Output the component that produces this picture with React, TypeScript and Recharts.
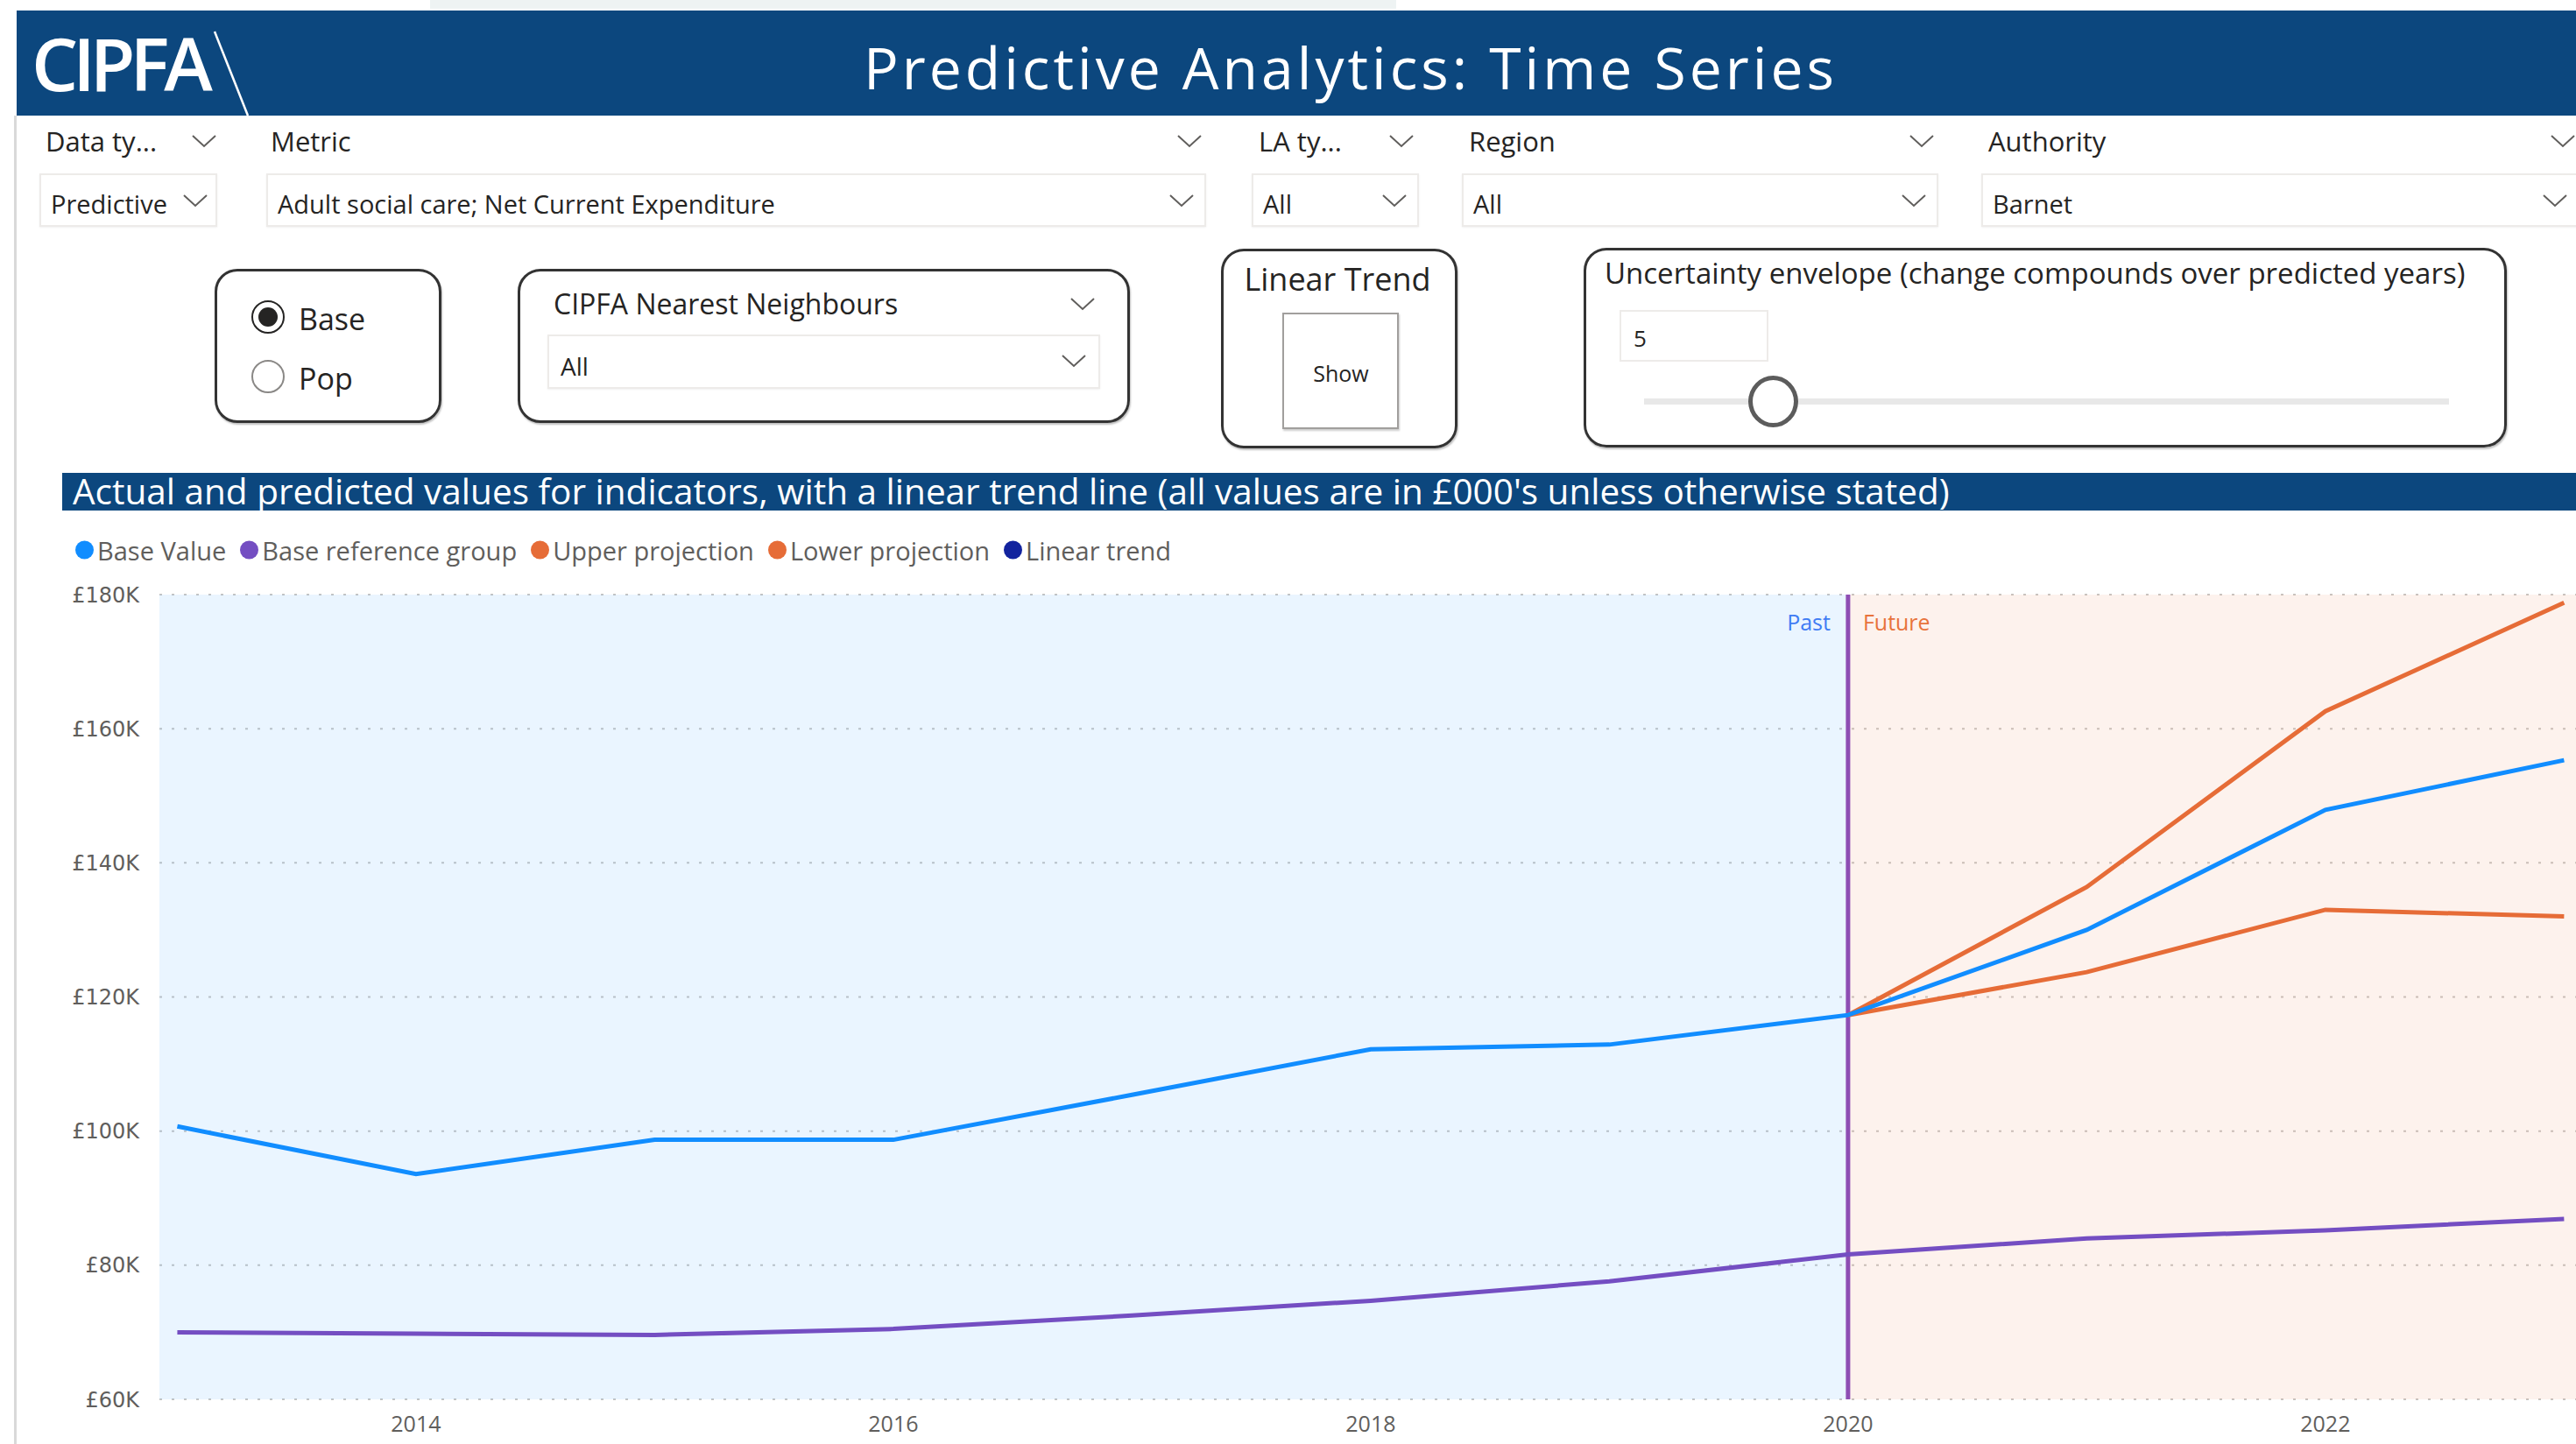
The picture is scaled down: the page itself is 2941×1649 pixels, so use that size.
import React from "react"
import { LineChart, Line, XAxis, YAxis, CartesianGrid, ReferenceArea, ReferenceLine } from "recharts"

// values in £000's (K)
const years = [2013, 2014, 2015, 2016, 2017, 2018, 2019, 2020, 2021, 2022, 2023]
const baseValue = [100.7, 93.6, 98.7, 98.7, 105.4, 112.2, 112.9, 117.3, 130.0, 147.9, 155.3]
const baseReferenceGroup = [70.0, 69.8, 69.6, 70.5, 72.5, 74.7, 77.6, 81.6, 84.0, 85.2, 86.9]
const upperProjection = [null, null, null, null, null, null, null, 117.3, 136.4, 162.6, 178.8]
const lowerProjection = [null, null, null, null, null, null, null, 117.3, 123.7, 133.0, 132.0]

const yTicks = [60, 80, 100, 120, 140, 160, 180]
const xTicks = [2014, 2016, 2018, 2020, 2022]
const xDomain: [number, number] = [2012.925, 2023.05]
const forecastStart = 2020

const legendItems = [
  { name: "Base Value", color: "#118dff" },
  { name: "Base reference group", color: "#744ec2" },
  { name: "Upper projection", color: "#e66c37" },
  { name: "Lower projection", color: "#e66c37" },
  { name: "Linear trend", color: "#12239e" },
]

const data = years.map((year, i) => ({
  year,
  base: baseValue[i],
  ref: baseReferenceGroup[i],
  upper: upperProjection[i],
  lower: lowerProjection[i],
}))

const FONT = "'Open Sans', 'Noto Sans', sans-serif"
const NAVY = "#0c477e"

function Txt({ x, y, size, color = "#252423", anchor = "start", weight = 400, spacing = 0, children }: any) {
  const tx = anchor === "middle" ? "-50%" : anchor === "end" ? "-100%" : "0"
  return (
    <div
      style={{
        position: "absolute",
        left: x,
        top: y,
        transform: `translate(${tx}, -50%)`,
        fontSize: size,
        lineHeight: 1,
        color,
        fontWeight: weight,
        letterSpacing: spacing,
        whiteSpace: "nowrap",
        fontFamily: FONT,
      }}
    >
      {children}
    </div>
  )
}

function Chevron({ x, y }: { x: number; y: number }) {
  return (
    <svg style={{ position: "absolute", left: x - 14, top: y - 8 }} width={28} height={16}>
      <polyline points="1,2 14,14 27,2" fill="none" stroke="#605e5c" strokeWidth={2} />
    </svg>
  )
}

function Box({ x, y, w, h, style = {} }: any) {
  return (
    <div
      style={{
        position: "absolute",
        left: x,
        top: y,
        width: w,
        height: h,
        boxSizing: "border-box",
        ...style,
      }}
    />
  )
}

const dropdownStyle = { border: "2px solid #edebe9", background: "#fff", boxShadow: "0 1px 2px rgba(0,0,0,0.06)" }
const panelStyle = { border: "3px solid #333", borderRadius: 26, boxShadow: "1px 2px 2px rgba(0,0,0,0.25)" }

function PastFutureLabel(props: any) {
  const { x, y } = props.viewBox
  return (
    <g fontFamily={FONT} fontSize={25}>
      <text x={x - 20} y={y + 41} textAnchor="end" fill="#3f7cf4">Past</text>
      <text x={x + 17} y={y + 41} textAnchor="start" fill="#e8733c">Future</text>
    </g>
  )
}

export default function App() {
  return (
    <div
      style={{
        position: "absolute",
        left: 0,
        top: 0,
        width: 2941,
        height: 1649,
        overflow: "hidden",
        background: "#fff",
        fontFamily: FONT,
      }}
    >
      {/* top strip */}
      <Box x={491} y={0} w={1103} h={10} style={{ background: "#eef3f3" }} />

      {/* header */}
      <Box x={19} y={12} w={2922} h={120} style={{ background: NAVY }} />
      <Txt x={36} y={72} size={84} color="#fff" weight={600} spacing={-6}>CIPFA</Txt>
      <svg style={{ position: "absolute", left: 0, top: 0 }} width={300} height={140}>
        <line x1={245} y1={36} x2={283} y2={132} stroke="#fff" strokeWidth={2.5} />
      </svg>
      <Txt x={1542} y={76} size={66} color="#fff" anchor="middle" spacing={4}>
        Predictive Analytics: Time Series
      </Txt>

      {/* left frame line */}
      <Box x={16} y={132} w={3} h={1517} style={{ background: "#d9d9d9" }} />

      {/* filter labels */}
      <Txt x={52} y={161} size={31}>Data ty...</Txt>
      <Chevron x={233} y={161} />
      <Txt x={309} y={161} size={31}>Metric</Txt>
      <Chevron x={1358} y={161} />
      <Txt x={1437} y={161} size={31}>LA ty...</Txt>
      <Chevron x={1600} y={161} />
      <Txt x={1677} y={161} size={31}>Region</Txt>
      <Chevron x={2194} y={161} />
      <Txt x={2270} y={161} size={31}>Authority</Txt>
      <Chevron x={2926} y={161} />

      {/* dropdowns */}
      <Box x={45} y={198} w={203} h={61} style={dropdownStyle} />
      <Txt x={58} y={232} size={29}>Predictive</Txt>
      <Chevron x={223} y={229} />
      <Box x={304} y={198} w={1073} h={61} style={dropdownStyle} />
      <Txt x={317} y={232} size={29}>Adult social care; Net Current Expenditure</Txt>
      <Chevron x={1349} y={229} />
      <Box x={1429} y={198} w={191} h={61} style={dropdownStyle} />
      <Txt x={1442} y={232} size={29}>All</Txt>
      <Chevron x={1592} y={229} />
      <Box x={1669} y={198} w={544} h={61} style={dropdownStyle} />
      <Txt x={1682} y={232} size={29}>All</Txt>
      <Chevron x={2185} y={229} />
      <Box x={2262} y={198} w={700} h={61} style={dropdownStyle} />
      <Txt x={2275} y={232} size={29}>Barnet</Txt>
      <Chevron x={2917} y={229} />

      {/* Base / Pop */}
      <Box x={245} y={307} w={259} h={176} style={panelStyle} />
      <Box x={287} y={343} w={38} h={38} style={{ border: "2.5px solid #252423", borderRadius: "50%", background: "#fff" }} />
      <Box x={295} y={351} w={22} h={22} style={{ borderRadius: "50%", background: "#252423" }} />
      <Txt x={341} y={364} size={34}>Base</Txt>
      <Box x={287} y={411} w={38} h={38} style={{ border: "2px solid #8a8886", borderRadius: "50%", background: "#fff" }} />
      <Txt x={341} y={432} size={34}>Pop</Txt>

      {/* nearest neighbours */}
      <Box x={591} y={307} w={699} h={176} style={panelStyle} />
      <Txt x={632} y={347} size={32}>CIPFA Nearest Neighbours</Txt>
      <Chevron x={1236} y={347} />
      <Box x={625} y={382} w={631} h={62} style={dropdownStyle} />
      <Txt x={640} y={418} size={28}>All</Txt>
      <Chevron x={1226} y={412} />

      {/* linear trend */}
      <Box x={1394} y={284} w={270} h={228} style={panelStyle} />
      <Txt x={1527} y={319} size={36} anchor="middle">Linear Trend</Txt>
      <Box x={1464} y={357} w={133} h={133} style={{ border: "2px solid #a19f9d", boxShadow: "1px 2px 2px rgba(0,0,0,0.2)", background: "#fff" }} />
      <Txt x={1531} y={426} size={25} anchor="middle">Show</Txt>

      {/* uncertainty envelope */}
      <Box x={1808} y={283} w={1054} h={228} style={panelStyle} />
      <Txt x={1832} y={311} size={33}>Uncertainty envelope (change compounds over predicted years)</Txt>
      <Box x={1849} y={354} w={170} h={59} style={{ border: "2px solid #edebe9", background: "#fff" }} />
      <Txt x={1865} y={386} size={26}>5</Txt>
      <Box x={1877} y={455} w={919} h={7} style={{ background: "#e8e8e8" }} />
      <Box x={1996} y={429} w={57} h={59} style={{ border: "5px solid #5c5c5c", borderRadius: "50%", background: "#fff" }} />

      {/* chart title bar */}
      <Box x={71} y={540} w={2870} h={43} style={{ background: NAVY }} />
      <Txt x={83} y={561} size={40.5} color="#fff">
        Actual and predicted values for indicators, with a linear trend line (all values are in £000's unless otherwise stated)
      </Txt>

      {/* legend */}
      <div
        style={{
          position: "absolute",
          left: 86,
          top: 628,
          transform: "translateY(-50%)",
          display: "flex",
          alignItems: "center",
          fontSize: 29,
          lineHeight: 1,
          color: "#605e5c",
          whiteSpace: "nowrap",
        }}
      >
        {legendItems.map((it) => (
          <div key={it.name} style={{ display: "flex", alignItems: "center", marginRight: 16 }}>
            <span style={{ width: 21, height: 21, borderRadius: "50%", background: it.color, marginRight: 4 }} />
            <span>{it.name}</span>
          </div>
        ))}
      </div>

      {/* chart */}
      <div style={{ position: "absolute", left: 0, top: 600 }}>
        <LineChart width={2941} height={1049} data={data} margin={{ top: 79, right: 0, bottom: 6, left: 12 }}>
          <ReferenceArea
            x1={xDomain[0]}
            x2={forecastStart}
            y1={60}
            y2={180}
            fill="#118dff"
            fillOpacity={0.09}
            stroke="none"
          />
          <ReferenceArea
            x1={forecastStart}
            x2={xDomain[1]}
            y1={60}
            y2={180}
            fill="#e66c37"
            fillOpacity={0.09}
            stroke="none"
          />
          <CartesianGrid vertical={false} stroke="#c8c6c4" strokeDasharray="3 11" strokeWidth={2} />
          <XAxis
            dataKey="year"
            type="number"
            domain={xDomain}
            allowDataOverflow
            ticks={xTicks}
            axisLine={false}
            tickLine={false}
            tickSize={0}
            tickMargin={19}
            height={45}
            tick={{ fontSize: 25, fill: "#605e5c", fontFamily: FONT }}
          />
          <YAxis
            domain={[60, 180]}
            ticks={yTicks}
            allowDataOverflow
            axisLine={false}
            tickLine={false}
            tickSize={0}
            tickMargin={23}
            width={170}
            tickFormatter={(v) => `£${v}K`}
            tick={{ fontSize: 24, fill: "#605e5c", fontFamily: "'DejaVu Sans', sans-serif" }}
          />
          <ReferenceLine x={forecastStart} stroke="#8e4db3" strokeWidth={5} label={PastFutureLabel} />
          <Line type="linear" dataKey="ref" name="Base reference group" stroke="#744ec2" strokeWidth={5} dot={false} isAnimationActive={false} />
          <Line type="linear" dataKey="upper" name="Upper projection" stroke="#e66c37" strokeWidth={5} dot={false} isAnimationActive={false} />
          <Line type="linear" dataKey="lower" name="Lower projection" stroke="#e66c37" strokeWidth={5} dot={false} isAnimationActive={false} />
          <Line type="linear" dataKey="base" name="Base Value" stroke="#118dff" strokeWidth={5} dot={false} isAnimationActive={false} />
        </LineChart>
      </div>
    </div>
  )
}
